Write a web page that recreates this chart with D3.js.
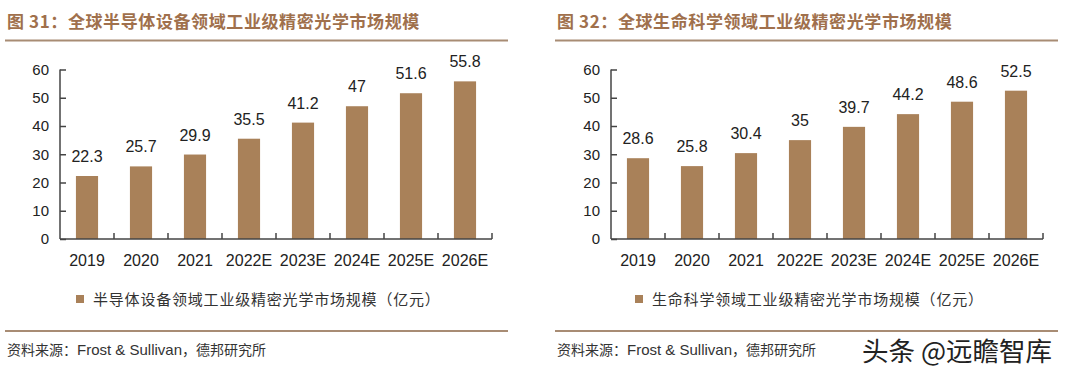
<!DOCTYPE html>
<html lang="zh">
<head>
    <meta charset="UTF-8">
    <title>工业级精密光学市场规模</title>
    <script src="https://d3js.org/d3.v7.min.js"></script>
    <style>
        body { margin: 0; background: #fff; }
        svg { display: block; }
        .num { font-family: "Liberation Sans", Arial, sans-serif; fill: #222; }
        .cjk { font-family: "Noto Sans CJK SC", sans-serif; }
        .lat { font-family: "Liberation Sans", Arial, sans-serif; }
    </style>
</head>
<body>
<div id="chart"></div>
<script>
    // categories shared by both panels
    const years = ["2019", "2020", "2021", "2022E", "2023E", "2024E", "2025E", "2026E"];
    const yTicks = [0, 10, 20, 30, 40, 50, 60];

    // 图 31 semiconductor equipment
    const semiTitle = "图 31：全球半导体设备领域工业级精密光学市场规模";
    const semiLegend = "半导体设备领域工业级精密光学市场规模（亿元）";
    const semiValues = [22.3, 25.7, 29.9, 35.5, 41.2, 47, 51.6, 55.8];

    // 图 32 life science
    const lifeTitle = "图 32：全球生命科学领域工业级精密光学市场规模";
    const lifeLegend = "生命科学领域工业级精密光学市场规模（亿元）";
    const lifeValues = [28.6, 25.8, 30.4, 35, 39.7, 44.2, 48.6, 52.5];

    const barColor = "#a98159";
    const titleColor = "#a0704c";
    const ruleColor = "#a88c74";

    const svg = d3.select("#chart").append("svg")
        .attr("width", 1080)
        .attr("height", 369);

    function drawPanel(x0, axisLeft, legendX, title, legend, values) {
        const g = svg.append("g");

        // title + rule
        g.append("text")
            .attr("class", "cjk")
            .attr("x", x0 + 2)
            .attr("y", 28)
            .style("font-size", "17px")
            .style("font-weight", "bold")
            .style("fill", titleColor)
            .style("letter-spacing", "0.6px")
            .text(title);

        g.append("line")
            .attr("x1", x0).attr("x2", x0 + 503)
            .attr("y1", 40.5).attr("y2", 40.5)
            .style("stroke", ruleColor)
            .style("stroke-width", 2);

        // scales
        const x = d3.scaleBand()
            .domain(years)
            .range([axisLeft, axisLeft + 432])
            .paddingInner(0.59)
            .paddingOuter(0.295);

        const y = d3.scaleLinear()
            .domain([0, 60])
            .range([239, 69.5]);

        // bars
        g.selectAll(".bar")
            .data(values)
            .enter()
            .append("rect")
            .attr("class", "bar")
            .attr("x", (d, i) => x(years[i]))
            .attr("y", d => y(d))
            .attr("width", x.bandwidth())
            .attr("height", d => y(0) - y(d))
            .style("fill", barColor);

        // value labels
        g.selectAll(".val")
            .data(values)
            .enter()
            .append("text")
            .attr("class", "num")
            .attr("x", (d, i) => x(years[i]) + x.bandwidth() / 2)
            .attr("y", d => y(d) - 14)
            .attr("text-anchor", "middle")
            .style("font-size", "16px")
            .text(d => d);

        // y axis (ticks inside)
        const yAxis = g.append("g")
            .attr("transform", "translate(" + axisLeft + ",0)")
            .call(d3.axisRight(y).tickValues(yTicks).tickSize(6).tickFormat(d3.format("d")));
        yAxis.select(".domain").style("stroke", "#444").style("stroke-width", 1.5)
            .attr("d", "M0," + y(60) + "V" + y(0));
        yAxis.selectAll(".tick line").style("stroke", "#444").style("stroke-width", 1.5);
        yAxis.selectAll(".tick text")
            .attr("class", "num")
            .attr("x", -11)
            .attr("text-anchor", "end")
            .style("font-size", "15px");

        // x axis, ticks at category boundaries pointing up
        g.append("line")
            .attr("x1", axisLeft).attr("x2", axisLeft + 432)
            .attr("y1", y(0)).attr("y2", y(0))
            .style("stroke", "#444")
            .style("stroke-width", 1.5);

        const step = x.step();
        g.selectAll(".xtick")
            .data(years)
            .enter()
            .append("line")
            .attr("x1", (d, i) => axisLeft + step * (i + 1))
            .attr("x2", (d, i) => axisLeft + step * (i + 1))
            .attr("y1", y(0))
            .attr("y2", y(0) - 6)
            .style("stroke", "#444")
            .style("stroke-width", 1.5);

        g.selectAll(".xlab")
            .data(years)
            .enter()
            .append("text")
            .attr("class", "num")
            .attr("x", d => x(d) + x.bandwidth() / 2)
            .attr("y", 265.5)
            .attr("text-anchor", "middle")
            .style("font-size", "16px")
            .text(d => d);

        // legend
        g.append("rect")
            .attr("x", legendX).attr("y", 295)
            .attr("width", 8).attr("height", 8)
            .style("fill", barColor);
        g.append("text")
            .attr("class", "cjk")
            .attr("x", legendX + 17)
            .attr("y", 304.5)
            .style("font-size", "15px")
            .style("letter-spacing", "0.8px")
            .style("fill", "#333")
            .text(legend);

        // footer rule + source
        g.append("line")
            .attr("x1", x0).attr("x2", x0 + 503)
            .attr("y1", 331).attr("y2", 331)
            .style("stroke", ruleColor)
            .style("stroke-width", 2);
        const src = g.append("text")
            .attr("class", "cjk")
            .attr("x", x0 + 2)
            .attr("y", 355)
            .style("font-size", "14px")
            .style("fill", "#333");
        src.append("tspan").text("资料来源：");
        src.append("tspan").attr("class", "lat").style("font-size", "15px").text("Frost & Sullivan");
        src.append("tspan").text("，德邦研究所");
    }

    drawPanel(5, 60, 76, semiTitle, semiLegend, semiValues);
    drawPanel(555, 611, 635, lifeTitle, lifeLegend, lifeValues);

    // watermark
    svg.append("text")
        .attr("class", "cjk")
        .attr("x", 862)
        .attr("y", 361)
        .style("font-size", "26.5px")
        .style("fill", "#222")
        .style("stroke", "#fff")
        .style("stroke-width", 3)
        .style("paint-order", "stroke")
        .text("头条 @远瞻智库");
</script>
</body>
</html>
